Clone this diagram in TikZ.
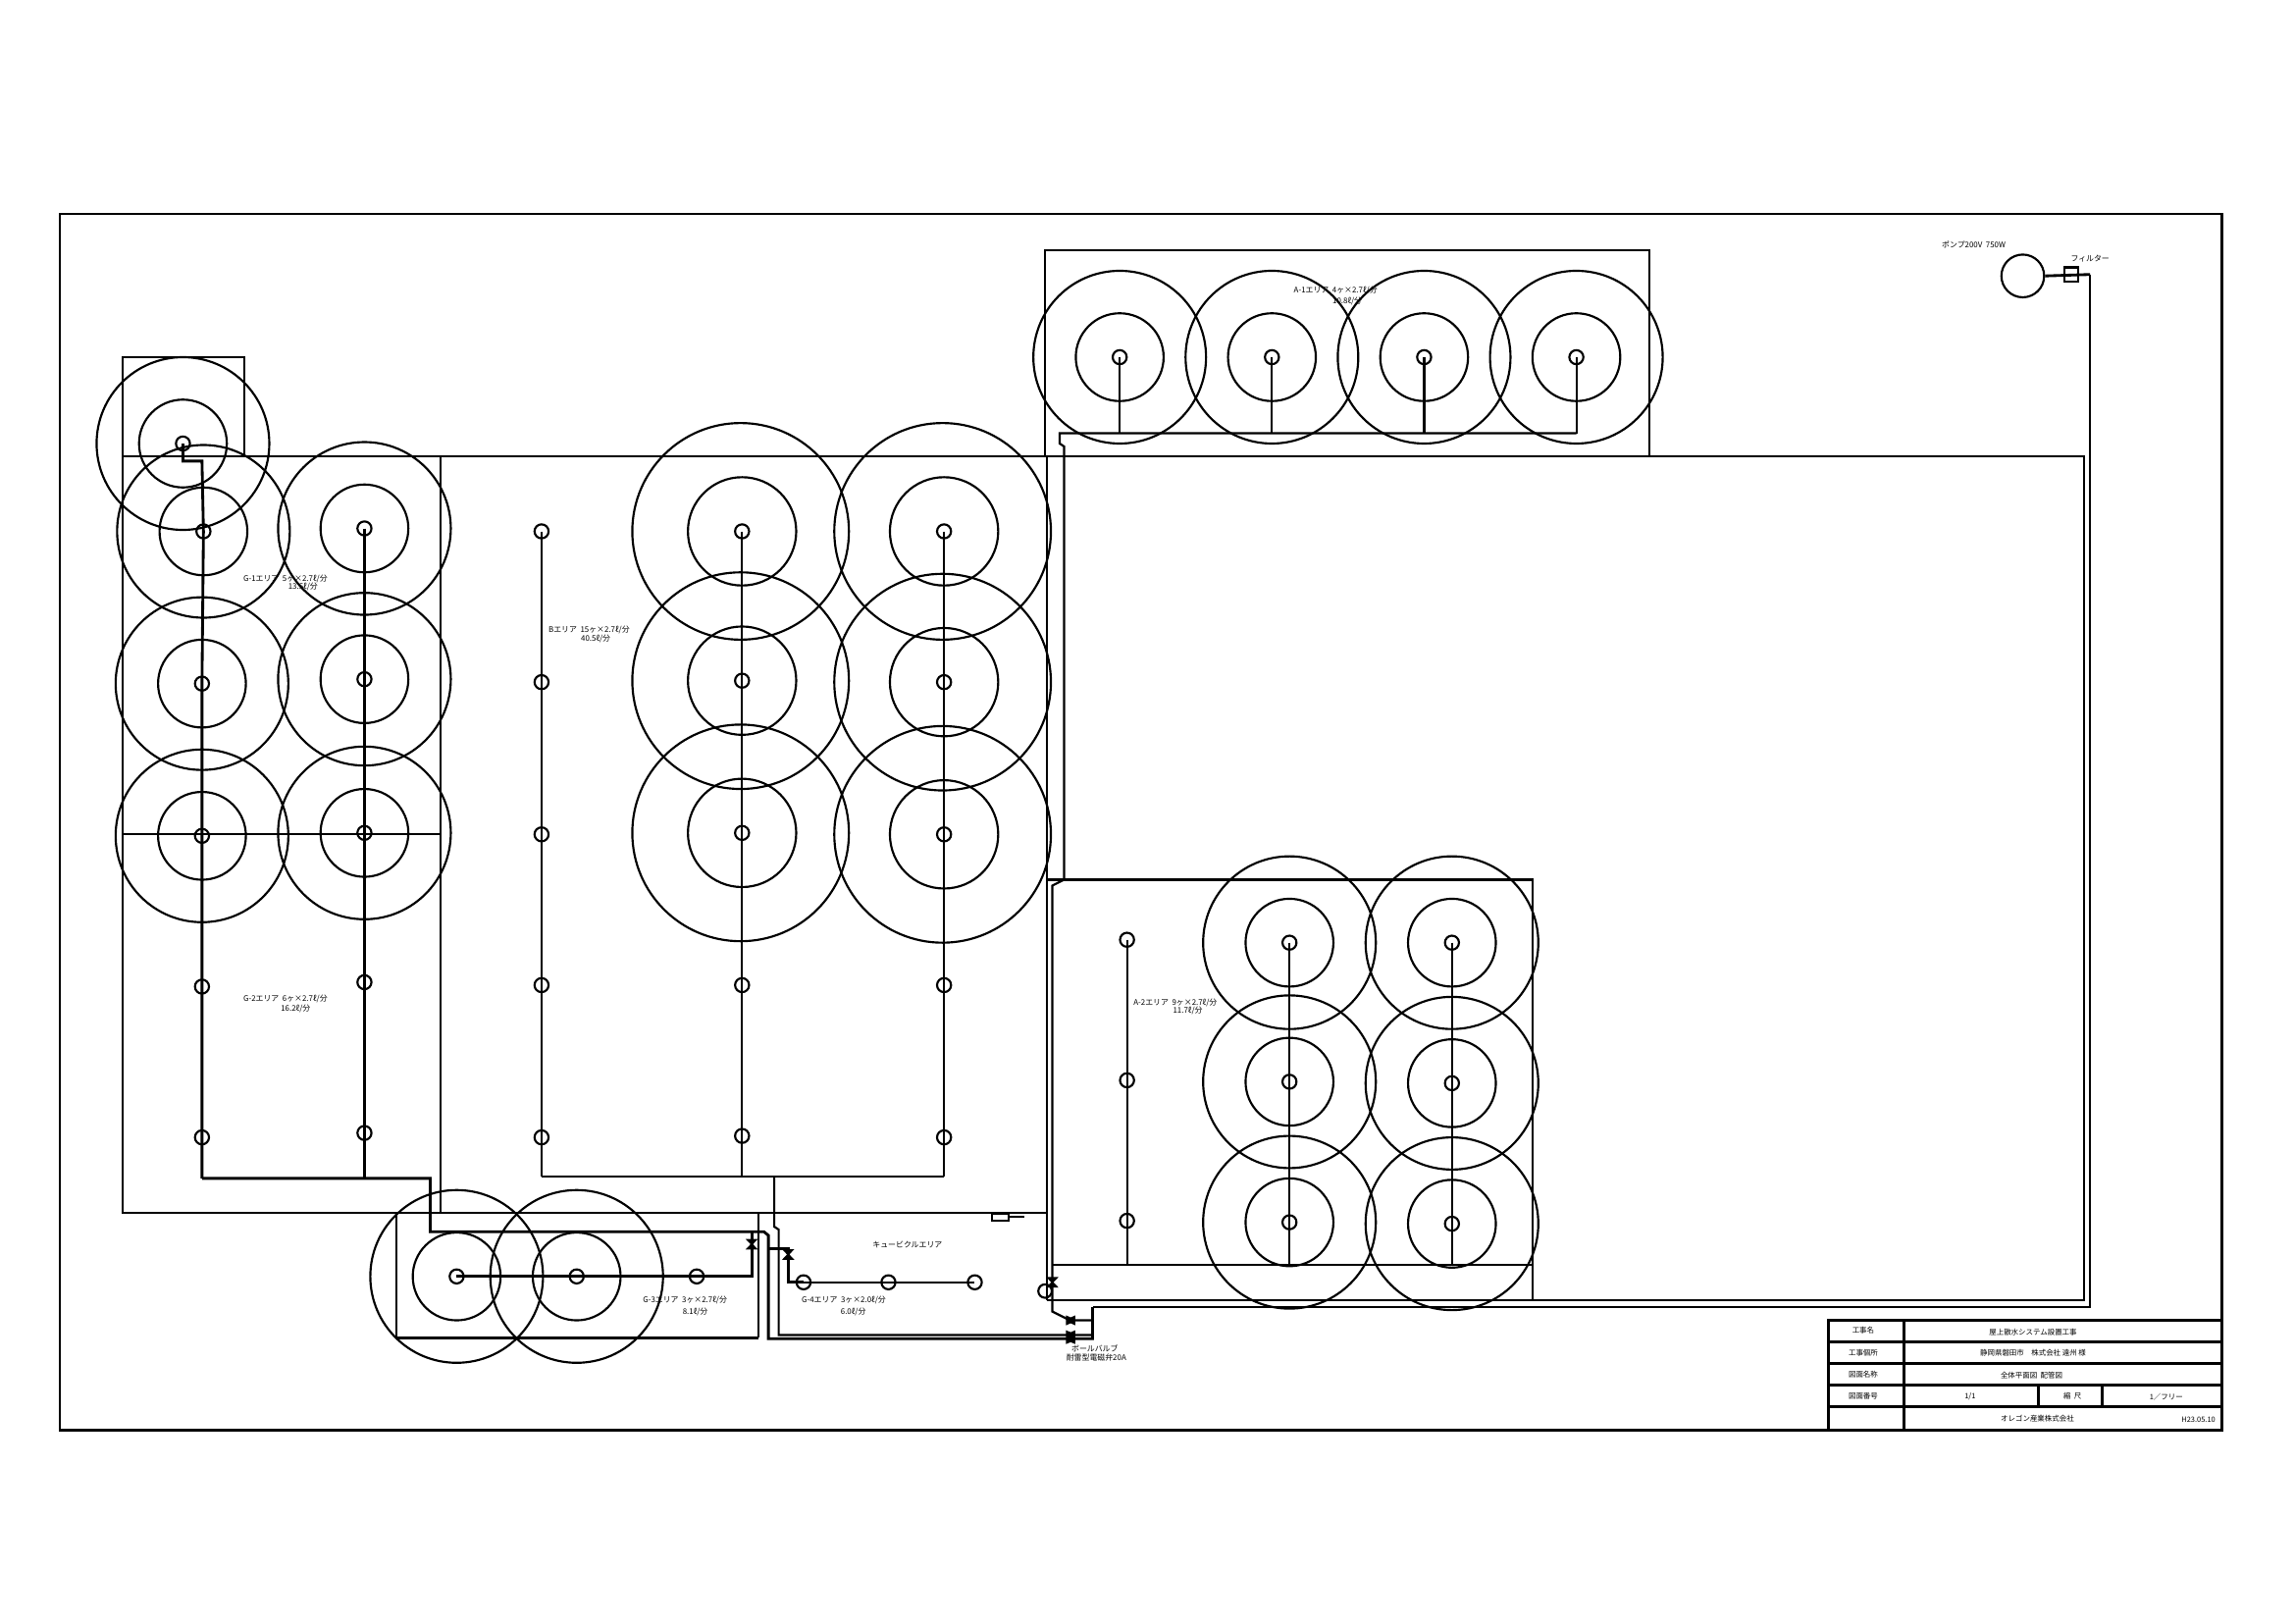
\documentclass[tikz,border=0pt]{standalone}
\usepackage{fontspec}
\setmainfont{Noto Sans CJK JP}
\newcommand{\hd}[3]{\node[head] (#1) at (#2,#3) {};}
\newcommand{\spm}[3]{\node[head] (#1) at (#2,#3) {};\node[ringm] (#1m) at (#2,#3) {};\node[ringo] (#1o) at (#2,#3) {};}
\newcommand{\spb}[3]{\node[head] (#1) at (#2,#3) {};\node[ringbm] (#1m) at (#2,#3) {};\node[ringbo] (#1o) at (#2-1,#3) {};}
\tikzset{
  ln/.style={line width=0.72pt},
  pipe/.style={line width=0.95pt},
  tb/.style={line width=1pt},
  head/.style={circle,draw,line width=0.72pt,inner sep=0pt,minimum size=4.8pt},
  ringm/.style={circle,draw,line width=0.72pt,inner sep=0pt,minimum size=30pt},
  ringo/.style={circle,draw,line width=0.72pt,inner sep=0pt,minimum size=59pt},
  ringbm/.style={circle,draw,line width=0.72pt,inner sep=0pt,minimum size=37pt},
  ringbo/.style={circle,draw,line width=0.72pt,inner sep=0pt,minimum size=74pt},
  lab/.style={font=\fontsize{2.65}{3}\selectfont,inner sep=0pt},
  tlab/.style={font=\fontsize{2.5}{3}\selectfont,inner sep=0pt},
  valv/.pic={\fill (-4.2,-3.6)--(4.2,-3.6)--(0.8,0)--(4.2,3.6)--(-4.2,3.6)--(-0.8,0)--cycle;},
  bval/.pic={\fill (-3.2,-3.4)--(0,-2)--(3.2,-3.4)--(3.2,3.4)--(0,2)--(-3.2,3.4)--cycle;},
  bvalb/.pic={\fill (-3.2,-4.7)--(0,-3.4)--(3.2,-4.7)--(3.2,4.7)--(0,3.4)--(-3.2,4.7)--cycle;},
}
\begin{document}
\begin{tikzpicture}[x=0.5pt,y=-0.5pt]
\useasboundingbox (0,0) rectangle (1568,1109);

% frame
\coordinate (fa) at (41,146); \coordinate (fb) at (1518,977);
\draw[ln] (fa) rectangle (fb);

% title block
\coordinate (ta) at (1249,902);
\draw[tb] (ta) rectangle (fb);
\foreach \y in {917,931.5,946.5,961} \draw[tb] (1249,\y) -- (1518,\y);
\draw[tb] (1301,902) -- (1301,977);
\draw[tb] (1393,946.5) -- (1393,961);
\draw[tb] (1436,946.5) -- (1436,961);
\node[tlab] (t1) at (1273,909) {工事名};
\node[tlab] (t2) at (1273,924) {工事個所};
\node[tlab] (t3) at (1273,939) {図面名称};
\node[tlab] (t4) at (1273,954) {図面番号};
\node[tlab] (t5) at (1389,910) {屋上散水システム設置工事};
\node[tlab] (t6) at (1389,924.5) {静岡県磐田市\quad 株式会社\ 遠州\ 様};
\node[tlab] (t7) at (1388,939.5) {全体平面図\ \ 配管図};
\node[tlab] (t8) at (1346,954) {1/1};
\node[tlab] (t9) at (1416,954) {縮\ \ 尺};
\node[tlab] (t10) at (1480,954.5) {1／フリー};
\node[tlab] (t11) at (1392,969) {オレゴン産業株式会社};
\node[tlab] (t12) at (1502,970) {H23.05.10};

% building outlines
\draw[ln] (84,312) -- (84,244) -- (167,244) -- (167,312);
\draw[ln] (84,312) -- (1424,312) -- (1424,888) -- (715.5,888);
\draw[ln] (84,312) -- (84,828.5) -- (715.5,828.5);
\draw[ln] (301,312) -- (301,828.5);
\draw[ln] (84,570) -- (301,570);
\draw[ln] (714,312) -- (714,171) -- (1127,171) -- (1127,312);
\draw[ln] (715.5,312) -- (715.5,888);
\draw[ln] (715.5,601) -- (1047,601) -- (1047,888);
\draw[ln] (719,864) -- (1047,864);
\draw[ln] (271,828.5) -- (271,914);
\draw[ln] (518,828.5) -- (518,914);
\draw[pipe] (271,914) -- (518,914);

% cubicle symbol
\node[draw,ln,inner sep=0pt,minimum width=5.6pt,minimum height=2.4pt] (cub) at (683.5,831.5) {};
\coordinate (cube) at (700,831.5);
\draw[ln] (cub.east) -- (cube);

% sprinklers
\spm{n0}{125}{303}
\spm{g1}{139}{363}\spm{g2}{249}{361}\spm{g3}{138}{467}\spm{g4}{249}{464}\spm{g5}{138}{571}\spm{g6}{249}{569}
\hd{g7}{138}{674}\hd{g8}{249}{671}\hd{g9}{138}{777}\hd{g10}{249}{774}
\hd{b1}{370}{363}\hd{b2}{370}{466}\hd{b3}{370}{570}\hd{b4}{370}{673}\hd{b5}{370}{777}
\spb{b6}{507}{363}\spb{b7}{645}{363}\spb{b8}{507}{465}\spb{b9}{645}{466}\spb{b10}{507}{569}\spb{b11}{645}{570}
\hd{b12}{507}{673}\hd{b13}{645}{673}\hd{b14}{507}{776}\hd{b15}{645}{777}
\spm{a1}{765}{244}\spm{a2}{869}{244}\spm{a3}{973}{244}\spm{a4}{1077}{244}
\spm{c1}{881}{644}\spm{c2}{992}{644}\spm{c3}{881}{739}\spm{c4}{992}{740}\spm{c5}{881}{835}\spm{c6}{992}{836}
\hd{c7}{770}{642}\hd{c8}{770}{738}\hd{c9}{770}{834}
\spm{d1}{312}{872}\spm{d2}{394}{872}\hd{d3}{476}{872}
\hd{e1}{549}{876}\hd{e2}{607}{876}\hd{e3}{666}{876}
\node[circle,draw,ln,inner sep=0pt,minimum size=4.6pt] (gauge) at (714,882) {};

% pump and filter
\node[circle,draw,line width=0.72pt,inner sep=0pt,minimum size=14.6pt] (pump) at (1382,188.5) {};
\node[draw,line width=0.72pt,inner sep=0pt,minimum size=4.8pt] (filt) at (1415,187.5) {};

% pipes: main feed
\coordinate (m1) at (1428,187.5);
\coordinate (m2) at (1428,893);
\coordinate (m3) at (746.5,893);
\coordinate (m4) at (746.5,914.5);
\coordinate (m5) at (525,914.5);
\coordinate (m6) at (525,844);
\coordinate (m7) at (522,841.5);
\coordinate (m8) at (294,841.5);
\coordinate (m9) at (294,805);
\coordinate (m10) at (138,805);
\draw[pipe] (pump.east) -- (m1);
\draw[ln] (m1) -- (m2) -- (m3);
\draw[pipe] (m3) -- (m4) -- (m5) -- (m6) -- (m7) -- (m8) -- (m9) -- (m10);

% second line
\coordinate (l1) at (746.5,912);
\coordinate (l2) at (532,912);
\coordinate (l3) at (532,840);
\coordinate (l4) at (529,838);
\coordinate (l5) at (529,804);
\draw[ln] (l1) -- (l2) -- (l3) -- (l4) -- (l5);

% G area branches
\coordinate (k1) at (125,315); \coordinate (k2) at (138,315);
\draw[pipe] (n0.center) -- (k1) -- (k2) -- (g1.center) -- (g3.center) -- (g5.center) -- (g7.center) -- (g9.center) -- (m10);
\coordinate (k3) at (249,805);
\draw[pipe] (g2.center) -- (g4.center) -- (g6.center) -- (g8.center) -- (g10.center) -- (k3);

% B area
\coordinate (p1) at (370,804); \coordinate (p2) at (507,804); \coordinate (p3) at (645,804);
\draw[ln] (p1) -- (p3);
\draw[ln] (b1.center) -- (b2.center) -- (b3.center) -- (b4.center) -- (b5.center) -- (p1);
\draw[ln] (b6.center) -- (b8.center) -- (b10.center) -- (b12.center) -- (b14.center) -- (p2);
\draw[ln] (b7.center) -- (b9.center) -- (b11.center) -- (b13.center) -- (b15.center) -- (p3);

% G-3
\coordinate (v3a) at (513.6,841.5); \coordinate (v3b) at (513.6,872);
\draw[pipe] (v3a) -- (v3b) -- (d3.center) -- (d2.center) -- (d1.center);
\pic at (513.6,850) {valv};

% G-4
\coordinate (v4a) at (525,853); \coordinate (v4b) at (538.5,853); \coordinate (v4c) at (538.5,876);
\draw[pipe] (v4a) -- (v4b) -- (v4c) -- (e1.center);
\draw[ln] (e1.center) -- (e2.center) -- (e3.center);
\pic at (538.5,857) {valv};

% A line
\coordinate (q1) at (719,896);
\coordinate (q2) at (731,902);
\coordinate (q3) at (746.5,902);
\coordinate (q4) at (719,605);
\coordinate (q5) at (727,601);
\coordinate (q6) at (727,305);
\coordinate (q7) at (724,303);
\coordinate (q8) at (724,296);
\coordinate (q9) at (1077,296);
\draw[ln] (q3) -- (q2) -- (q1) -- (q4) -- (q5) -- (q6) -- (q7) -- (q8) -- (q9);
\coordinate (r1) at (765,296); \coordinate (r2) at (869,296); \coordinate (r3) at (973,296);
\draw[ln] (a1.center) -- (r1) (a2.center) -- (r2) (a3.center) -- (r3) (a4.center) -- (q9);
\coordinate (u1) at (770,864); \coordinate (u2) at (881,864); \coordinate (u3) at (992,864);
\draw[ln] (c7.center) -- (c8.center) -- (c9.center) -- (u1);
\draw[ln] (c1.center) -- (c3.center) -- (c5.center) -- (u2);
\draw[ln] (c2.center) -- (c4.center) -- (c6.center) -- (u3);
\coordinate (gj) at (719,880);
\draw[ln] (gauge) -- (gj);
\pic at (719,876) {valv};
\pic at (731.5,902) {bval};
\pic at (731.5,913.5) {bvalb};

% labels
\node[lab] (l-g1a) at (195,395.5) {G-1エリア\ \ 5ヶ×2.7ℓ/分};
\node[lab] (l-g1b) at (207,401) {13.5ℓ/分};
\node[lab] (l-g2a) at (195,682.5) {G-2エリア\ \ 6ヶ×2.7ℓ/分};
\node[lab] (l-g2b) at (202,689) {16.2ℓ/分};
\node[lab] (l-ba) at (402.5,430.5) {Bエリア\ \ 15ヶ×2.7ℓ/分};
\node[lab] (l-bb) at (407,436.5) {40.5ℓ/分};
\node[lab] (l-a1a) at (912.5,198.5) {A-1エリア\ \ 4ヶ×2.7ℓ/分};
\node[lab] (l-a1b) at (920.5,205.5) {10.8ℓ/分};
\node[lab] (l-a2a) at (803,685) {A-2エリア\ \ 9ヶ×2.7ℓ/分};
\node[lab] (l-a2b) at (811.5,690.5) {11.7ℓ/分};
\node[lab] (l-g3a) at (468,888.5) {G-3エリア\ \ 3ヶ×2.7ℓ/分};
\node[lab] (l-g3b) at (475,896) {8.1ℓ/分};
\node[lab] (l-g4a) at (576.5,888.5) {G-4エリア\ \ 3ヶ×2.0ℓ/分};
\node[lab] (l-g4b) at (583,896) {6.0ℓ/分};
\node[lab] (l-cu) at (620,850) {キュービクルエリア};
\node[lab] (l-bv) at (748,921) {ボールバルブ};
\node[lab] (l-ev) at (749,927.5) {耐雷型電磁弁20A};
\node[lab] (l-pu) at (1348.5,167) {ポンプ200V\ \ 750W};
\node[lab] (l-fi) at (1428,176.5) {フィルター};
\end{tikzpicture}
\end{document}
